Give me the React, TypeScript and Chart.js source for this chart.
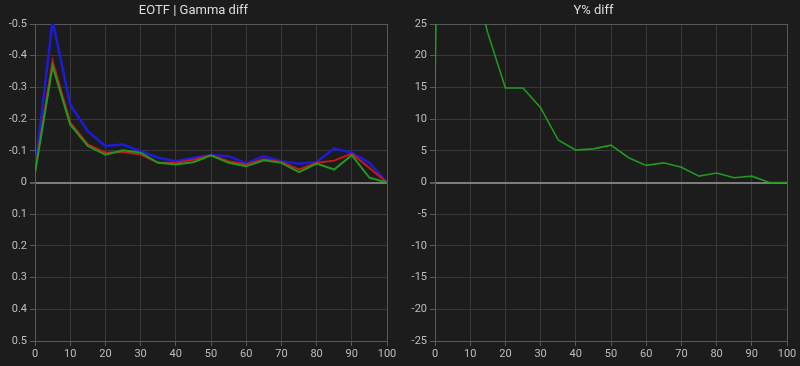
import React, { useEffect, useRef } from "react";
import { Chart, registerables } from "chart.js";

Chart.register(...registerables);

const xValues = [0, 5, 10, 15, 20, 25, 30, 35, 40, 45, 50, 55, 60, 65, 70, 75, 80, 85, 90, 95, 100];

const gammaBlue = [-0.04, -0.51, -0.246, -0.162, -0.115, -0.12, -0.099, -0.078, -0.067, -0.078, -0.086, -0.083, -0.06, -0.083, -0.067, -0.059, -0.065, -0.107, -0.094, -0.062, 0];
const gammaRed = [-0.035, -0.383, -0.19, -0.12, -0.094, -0.096, -0.088, -0.062, -0.062, -0.072, -0.086, -0.067, -0.057, -0.073, -0.065, -0.041, -0.062, -0.069, -0.091, -0.046, 0];
const gammaGreen = [-0.03, -0.367, -0.183, -0.115, -0.088, -0.102, -0.094, -0.062, -0.057, -0.064, -0.086, -0.062, -0.051, -0.07, -0.062, -0.033, -0.06, -0.041, -0.086, -0.015, 0];

const yDiff = [15.5, 185, 34, 23.6, 14.9, 14.9, 11.8, 6.7, 5.1, 5.3, 5.9, 3.9, 2.7, 3.1, 2.4, 1.0, 1.5, 0.74, 1.0, 0, 0];

const leftTitle = "EOTF | Gamma diff";
const rightTitle = "Y% diff";

const FONT = "Roboto, 'Liberation Sans', Arial, sans-serif";

function pts(ys: number[]) {
  return xValues.map((x, i) => ({ x, y: ys[i] }));
}

function makeOptions(title: string, yMin: number, yMax: number, step: number, reverse: boolean, decimals: number): any {
  const gridColor = (ctx: any) => {
    const v = ctx.tick ? ctx.tick.value : null;
    if (v === 0) return "#7c7c7c";
    return "#383838";
  };
  return {
    animation: false,
    responsive: false,
    maintainAspectRatio: false,
    layout: { padding: { right: 13, left: 0, top: 0, bottom: 0 } },
    plugins: {
      legend: { display: false },
      tooltip: { enabled: false },
      title: {
        display: true,
        text: title,
        color: "#dcdcdc",
        font: { family: FONT, size: 13, weight: "normal", lineHeight: 1.2 },
        padding: { top: 3, bottom: 5.4 },
      },
    },
    elements: { point: { radius: 0 }, line: { tension: 0 } },
    scales: {
      x: {
        type: "linear",
        min: 0,
        max: 100,
        ticks: {
          stepSize: 10,
          color: "#bdbdbd",
          font: { family: FONT, size: 11 },
          padding: 2,
          maxRotation: 0,
        },
        grid: {
          color: (ctx: any) => (ctx.tick && ctx.tick.value === 100 ? "#575757" : "#383838"),
          tickColor: "#5a5a5a",
          tickLength: 5,
          lineWidth: 1,
        },
        border: { color: "#5a5a5a", width: 1 },
        afterFit: (scale: any) => {
          scale.height = 25;
        },
      },
      y: {
        type: "linear",
        min: yMin,
        max: yMax,
        reverse,
        ticks: {
          stepSize: step,
          color: "#bdbdbd",
          font: { family: FONT, size: 11 },
          padding: 3,
          callback: (v: any) => {
            const n = Number(Number(v).toFixed(decimals));
            return n === 0 ? "0" : n.toString();
          },
        },
        grid: {
          color: (ctx: any) => {
            const v = ctx.tick ? ctx.tick.value : null;
            if (v === 0) return "#7c7c7c";
            if (v === yMin || v === yMax) return "#575757";
            return "#383838";
          },
          lineWidth: (ctx: any) => (ctx.tick && ctx.tick.value === 0 ? 2 : 1),
          tickColor: "#5a5a5a",
          tickLength: 5,
        },
        border: { color: "#5a5a5a", width: 1 },
        afterFit: (scale: any) => {
          scale.width = 35;
        },
      },
    },
  };
}

function ChartCanvas({ config }: { config: any }) {
  const ref = useRef<HTMLCanvasElement | null>(null);
  useEffect(() => {
    if (!ref.current) return;
    const chart = new Chart(ref.current, config);
    return () => chart.destroy();
  }, [config]);
  return <canvas ref={ref} width={400} height={366} style={{ display: "block", width: 400, height: 366 }} />;
}

const leftConfig: any = {
  type: "line",
  data: {
    datasets: [
      { data: pts(gammaGreen), borderColor: "#1f9a1f", borderWidth: 2, fill: false },
      { data: pts(gammaRed), borderColor: "#c81818", borderWidth: 2, fill: false },
      { data: pts(gammaBlue), borderColor: "#1c1cd8", borderWidth: 2.5, fill: false },
    ],
  },
  options: makeOptions(leftTitle, -0.5, 0.5, 0.1, true, 1),
};

const rightConfig: any = {
  type: "line",
  data: {
    datasets: [{ data: pts(yDiff), borderColor: "#1f9a1f", borderWidth: 1.6, fill: false }],
  },
  options: makeOptions(rightTitle, -25, 25, 5, false, 0),
};

export default function App() {
  useEffect(() => {
    document.body.style.margin = "0";
    document.body.style.background = "#1c1c1c";
  }, []);
  return (
    <div style={{ display: "flex", width: 800, height: 366, background: "#1c1c1c", overflow: "hidden" }}>
      <ChartCanvas config={leftConfig} />
      <ChartCanvas config={rightConfig} />
    </div>
  );
}
